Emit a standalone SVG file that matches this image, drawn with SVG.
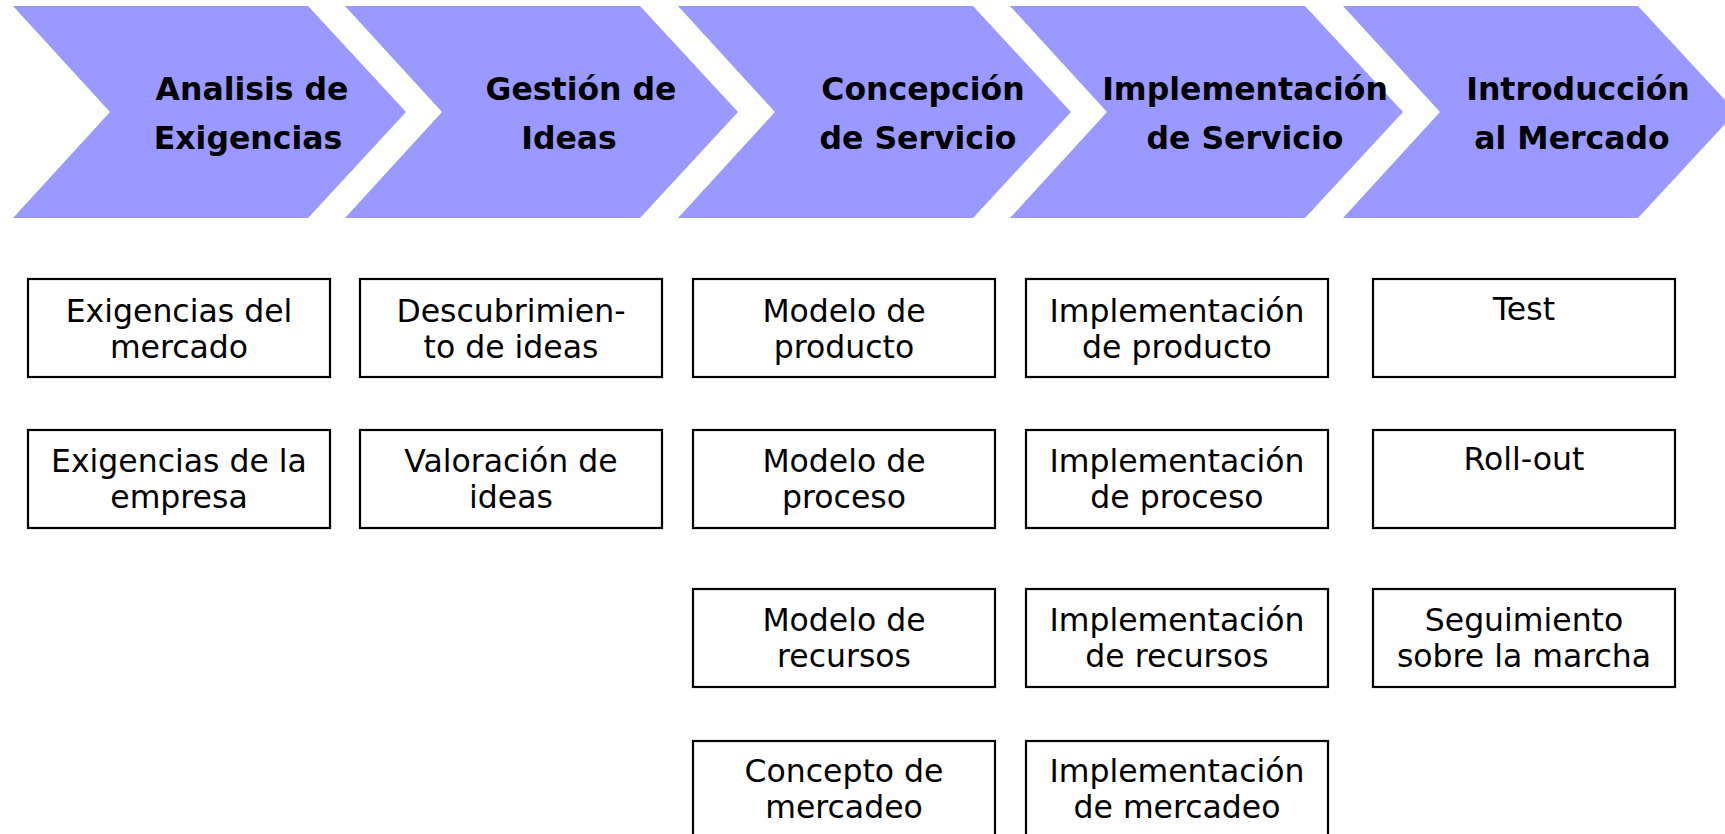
<svg xmlns="http://www.w3.org/2000/svg" width="1725" height="834" viewBox="0 0 1725 834">
<style>
.chev{fill:#9999FF;stroke:none}
.hd{font-family:"DejaVu Sans","Verdana","Liberation Sans",sans-serif;font-weight:bold;font-size:31.5px;fill:#000;text-anchor:middle}
.box{fill:#fff;stroke:#000;stroke-width:2.2}
.bt{font-family:"DejaVu Sans","Verdana","Liberation Sans",sans-serif;font-size:31.5px;fill:#000;text-anchor:middle}
</style>
<defs>
<polygon id="chevShape" points="0,6 295,6 393,112 295,218 0,218 97,112"/>
</defs>
<rect width="1725" height="834" fill="#fff"/>
<g id="stage1"><use href="#chevShape" class="chev" x="13"/><text class="hd" x="252" y="100">Analisis de</text><text class="hd" x="248" y="149">Exigencias</text></g>
<g id="stage2"><use href="#chevShape" class="chev" x="345"/><text class="hd" x="581" y="100">Gestión de</text><text class="hd" x="569" y="149">Ideas</text></g>
<g id="stage3"><use href="#chevShape" class="chev" x="678"/><text class="hd" x="923" y="100">Concepción</text><text class="hd" x="918" y="149">de Servicio</text></g>
<g id="stage4"><use href="#chevShape" class="chev" x="1010"/><text class="hd" x="1245" y="100">Implementación</text><text class="hd" x="1245" y="149">de Servicio</text></g>
<g id="stage5"><use href="#chevShape" class="chev" x="1343"/><text class="hd" x="1578" y="100">Introducción</text><text class="hd" x="1572" y="149">al Mercado</text></g>

<g id="n-exig-mercado"><rect class="box" x="28" y="279" width="302" height="98"/><text class="bt" x="179" y="322">Exigencias del</text><text class="bt" x="179" y="358">mercado</text></g>
<g id="n-exig-empresa"><rect class="box" x="28" y="430" width="302" height="98"/><text class="bt" x="179" y="472">Exigencias de la</text><text class="bt" x="179" y="508">empresa</text></g>

<g id="n-descubrimiento"><rect class="box" x="360" y="279" width="302" height="98"/><text class="bt" x="511" y="322">Descubrimien-</text><text class="bt" x="511" y="358">to de ideas</text></g>
<g id="n-valoracion"><rect class="box" x="360" y="430" width="302" height="98"/><text class="bt" x="511" y="472">Valoración de</text><text class="bt" x="511" y="508">ideas</text></g>

<g id="n-modelo-producto"><rect class="box" x="693" y="279" width="302" height="98"/><text class="bt" x="844" y="322">Modelo de</text><text class="bt" x="844" y="358">producto</text></g>
<g id="n-modelo-proceso"><rect class="box" x="693" y="430" width="302" height="98"/><text class="bt" x="844" y="472">Modelo de</text><text class="bt" x="844" y="508">proceso</text></g>
<g id="n-modelo-recursos"><rect class="box" x="693" y="589" width="302" height="98"/><text class="bt" x="844" y="631">Modelo de</text><text class="bt" x="844" y="667">recursos</text></g>
<g id="n-concepto-mercadeo"><rect class="box" x="693" y="741" width="302" height="110"/><text class="bt" x="844" y="782">Concepto de</text><text class="bt" x="844" y="818">mercadeo</text></g>

<g id="n-impl-producto"><rect class="box" x="1026" y="279" width="302" height="98"/><text class="bt" x="1177" y="322">Implementación</text><text class="bt" x="1177" y="358">de producto</text></g>
<g id="n-impl-proceso"><rect class="box" x="1026" y="430" width="302" height="98"/><text class="bt" x="1177" y="472">Implementación</text><text class="bt" x="1177" y="508">de proceso</text></g>
<g id="n-impl-recursos"><rect class="box" x="1026" y="589" width="302" height="98"/><text class="bt" x="1177" y="631">Implementación</text><text class="bt" x="1177" y="667">de recursos</text></g>
<g id="n-impl-mercadeo"><rect class="box" x="1026" y="741" width="302" height="110"/><text class="bt" x="1177" y="782">Implementación</text><text class="bt" x="1177" y="818">de mercadeo</text></g>

<g id="n-test"><rect class="box" x="1373" y="279" width="302" height="98"/><text class="bt" x="1524" y="320">Test</text></g>
<g id="n-rollout"><rect class="box" x="1373" y="430" width="302" height="98"/><text class="bt" x="1524" y="470">Roll-out</text></g>
<g id="n-seguimiento"><rect class="box" x="1373" y="589" width="302" height="98"/><text class="bt" x="1524" y="631">Seguimiento</text><text class="bt" x="1524" y="667">sobre la marcha</text></g>

<g id="connectors"></g>
</svg>
